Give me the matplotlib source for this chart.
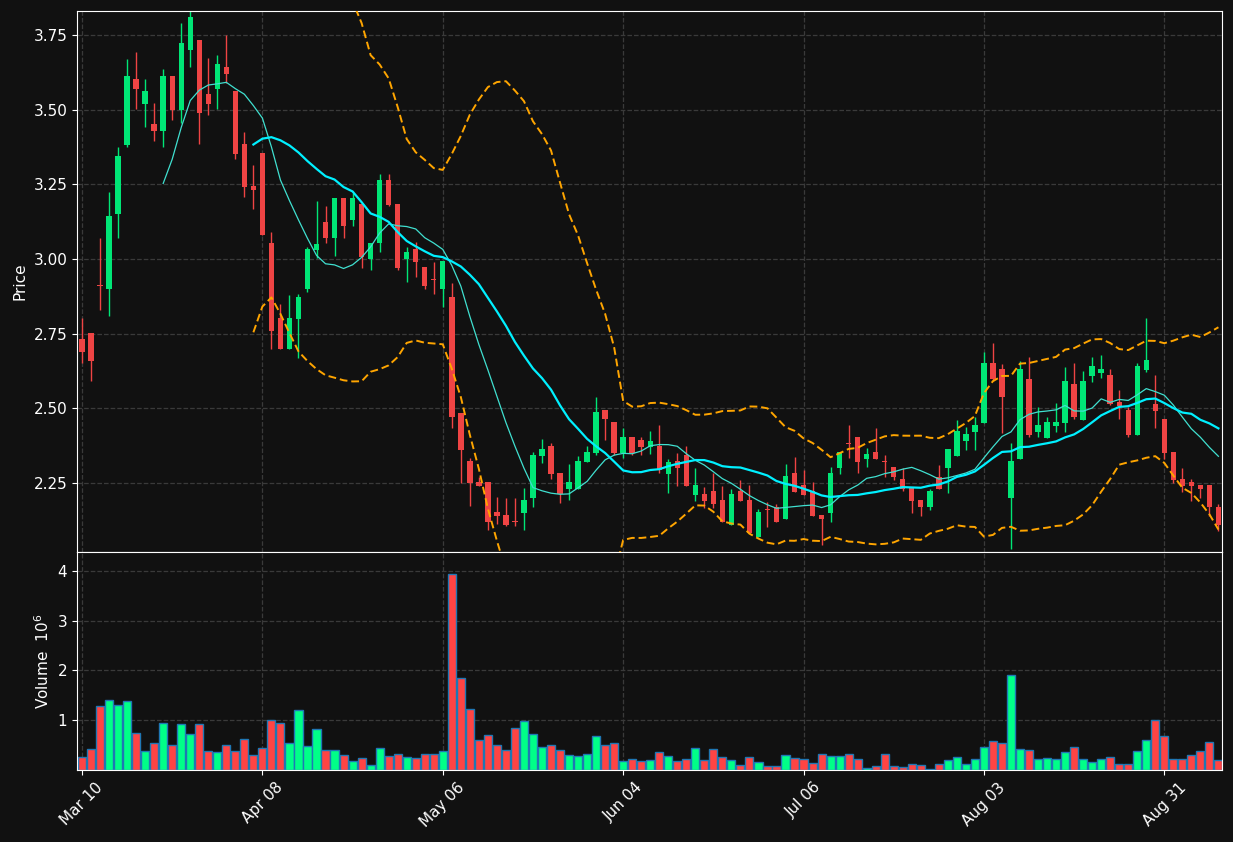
import numpy as np
import matplotlib
matplotlib.use("Agg")
import matplotlib.pyplot as plt

opens = [2.732,2.752,2.913,2.90,3.15,3.382,3.602,3.519,3.452,3.428,3.612,3.499,3.70,3.733,3.552,3.569,3.643,3.562,3.385,3.244,
         3.355,3.053,2.802,2.70,2.80,2.90,3.03,3.124,3.07,3.204,3.13,3.184,3.0,3.053,3.264,3.184,3.0,3.033,2.973,2.933,
         2.90,2.873,2.484,2.324,2.253,2.253,2.153,2.143,2.123,2.15,2.2,2.34,2.374,2.283,2.23,2.23,2.32,2.35,2.494,2.454,
         2.35,2.404,2.394,2.37,2.374,2.28,2.324,2.344,2.21,2.213,2.223,2.193,2.11,2.223,2.193,2.07,2.163,2.17,2.13,2.283,
         2.243,2.223,2.143,2.15,2.30,2.384,2.404,2.33,2.354,2.324,2.304,2.263,2.233,2.193,2.17,2.27,2.30,2.34,2.39,2.42,
         2.45,2.652,2.632,2.20,2.33,2.598,2.42,2.40,2.44,2.45,2.58,2.46,2.608,2.618,2.612,2.52,2.494,2.41,2.628,2.514,
         2.464,2.354,2.263,2.253,2.243,2.243,2.17]
closes = [2.689,2.658,2.91,3.144,3.345,3.612,3.569,3.562,3.428,3.612,3.499,3.723,3.81,3.489,3.519,3.652,3.619,3.351,3.241,3.231,
          3.08,2.759,2.70,2.802,2.873,3.033,3.05,3.07,3.204,3.11,3.204,3.007,3.053,3.264,3.18,2.97,3.023,2.99,2.91,2.93,
          2.993,2.471,2.36,2.25,2.24,2.12,2.14,2.11,2.12,2.193,2.344,2.363,2.28,2.213,2.253,2.324,2.354,2.488,2.464,2.35,
          2.404,2.35,2.37,2.39,2.294,2.32,2.30,2.24,2.243,2.19,2.18,2.12,2.213,2.19,2.083,2.153,2.16,2.12,2.273,2.22,
          2.21,2.14,2.13,2.283,2.354,2.38,2.32,2.347,2.33,2.32,2.27,2.23,2.19,2.17,2.223,2.23,2.364,2.424,2.414,2.444,
          2.652,2.598,2.538,2.324,2.632,2.41,2.444,2.454,2.454,2.59,2.47,2.59,2.642,2.632,2.514,2.508,2.41,2.642,2.662,2.49,
          2.35,2.26,2.24,2.24,2.23,2.17,2.11]
highs = [2.802,2.752,3.07,3.224,3.375,3.67,3.693,3.602,3.522,3.635,3.612,3.79,3.83,3.733,3.672,3.683,3.75,3.562,3.425,3.315,
         3.355,3.09,2.85,2.88,2.883,3.04,3.194,3.177,3.204,3.204,3.22,3.184,3.053,3.284,3.284,3.184,3.04,3.057,2.973,2.99,
         2.993,2.92,2.484,2.334,2.27,2.253,2.203,2.2,2.2,2.233,2.353,2.397,2.384,2.283,2.314,2.34,2.374,2.538,2.494,2.454,
         2.434,2.404,2.404,2.424,2.444,2.33,2.35,2.374,2.30,2.237,2.283,2.24,2.23,2.26,2.243,2.163,2.187,2.18,2.314,2.337,
         2.293,2.253,2.143,2.304,2.354,2.444,2.404,2.367,2.434,2.344,2.304,2.30,2.233,2.193,2.23,2.31,2.364,2.46,2.437,2.47,
         2.69,2.718,2.648,2.384,2.66,2.672,2.504,2.47,2.518,2.638,2.652,2.625,2.672,2.678,2.632,2.56,2.504,2.652,2.802,2.61,
         2.464,2.354,2.30,2.263,2.243,2.243,2.18]
lows = [2.652,2.59,2.83,2.81,3.07,3.375,3.502,3.442,3.395,3.375,3.465,3.455,3.643,3.385,3.482,3.502,3.589,3.335,3.207,3.167,
        3.08,2.70,2.70,2.70,2.67,2.89,3.003,3.053,3.01,3.07,3.11,2.97,2.963,3.023,3.177,2.963,2.923,2.94,2.90,2.883,
        2.84,2.434,2.25,2.173,2.24,2.093,2.113,2.105,2.105,2.093,2.17,2.317,2.263,2.183,2.193,2.23,2.32,2.344,2.394,2.344,
        2.334,2.344,2.344,2.347,2.283,2.217,2.24,2.24,2.19,2.167,2.167,2.12,2.11,2.19,2.083,2.07,2.103,2.12,2.13,2.22,
        2.21,2.14,2.043,2.12,2.28,2.334,2.283,2.304,2.33,2.27,2.26,2.223,2.15,2.14,2.16,2.23,2.217,2.34,2.36,2.36,
        2.45,2.59,2.417,2.03,2.33,2.404,2.404,2.40,2.42,2.42,2.464,2.46,2.588,2.60,2.51,2.464,2.404,2.41,2.62,2.434,
        2.33,2.25,2.22,2.19,2.2,2.14,2.09]
volumes = [0.27,0.43,1.29,1.41,1.31,1.39,0.75,0.39,0.55,0.95,0.51,0.93,0.73,0.93,0.39,0.37,0.51,0.39,0.63,0.31,
           0.45,1.01,0.95,0.55,1.21,0.49,0.83,0.41,0.41,0.31,0.19,0.25,0.11,0.45,0.29,0.33,0.27,0.25,0.33,0.33,
           0.39,3.93,1.85,1.23,0.6,0.7,0.5,0.4,0.84,0.98,0.72,0.46,0.5,0.4,0.3,0.28,0.32,0.68,0.5,0.54,
           0.18,0.22,0.18,0.2,0.36,0.28,0.18,0.22,0.44,0.2,0.42,0.26,0.2,0.1,0.26,0.16,0.08,0.08,0.3,0.24,
           0.22,0.14,0.32,0.28,0.28,0.32,0.22,0.05,0.09,0.33,0.09,0.07,0.13,0.11,0.03,0.13,0.21,0.27,0.13,0.23,
           0.47,0.59,0.55,1.91,0.43,0.41,0.23,0.25,0.23,0.37,0.47,0.23,0.17,0.23,0.27,0.13,0.13,0.39,0.61,1.01,
           0.69,0.23,0.23,0.31,0.39,0.57,0.21]
tick_labels = ["Mar 10", "Apr 08", "May 06", "Jun 04", "Jul 06", "Aug 03", "Aug 31"]
tick_pos = [0, 20, 40, 60, 80, 100, 120]

o = np.array(opens); c = np.array(closes); h = np.array(highs); l = np.array(lows); v = np.array(volumes)
n = len(c); x = np.arange(n)
up = c >= o

BG = "#111111"
UP = "#00e676"; DOWN = "#ef4444"
fig = plt.figure(figsize=(12.33, 8.42), dpi=100, facecolor=BG)
ax = fig.add_axes([0.0625, 0.3444, 0.9286, 0.6425], facecolor=BG)
axv = fig.add_axes([0.0625, 0.0855, 0.9286, 0.2589], facecolor=BG, sharex=ax)

cols = np.where(up, UP, DOWN)
ax.vlines(x, l, h, colors=cols, linewidth=1, zorder=2)
ax.bar(x, np.maximum(np.abs(c - o), 0.004), bottom=np.minimum(o, c), width=0.6, color=cols, zorder=3)

s = np.array(c)
def sma(a, w):
    out = np.full(len(a), np.nan)
    for i in range(w - 1, len(a)):
        out[i] = a[i - w + 1:i + 1].mean()
    return out
def sstd(a, w):
    out = np.full(len(a), np.nan)
    for i in range(w - 1, len(a)):
        out[i] = a[i - w + 1:i + 1].std()
    return out
ma10 = sma(s, 10); ma20 = sma(s, 20); sd = sstd(s, 20)
ax.plot(x, ma10, color="#40e0d0", lw=0.9, zorder=4)
ax.plot(x, ma20, color="#00f0ff", lw=1.6, zorder=4)
ax.plot(x, ma20 + 2 * sd, color="orange", lw=1.4, ls=(0, (4, 2)), zorder=4)
ax.plot(x, ma20 - 2 * sd, color="orange", lw=1.4, ls=(0, (4, 2)), zorder=4)

vcols = np.where(up, "#00ff88", "#ff4444")
axv.bar(x, v, width=0.9, color=vcols, edgecolor="#1f77b4", linewidth=1)

ax.set_xlim(-0.55, 126.4)
ax.set_ylim(2.019, 3.83)
ax.set_yticks([2.25, 2.5, 2.75, 3.0, 3.25, 3.5, 3.75])
ax.set_yticklabels([f"{t:.2f}" for t in [2.25, 2.5, 2.75, 3.0, 3.25, 3.5, 3.75]])
axv.set_ylim(0, 4.38)
axv.set_yticks([1, 2, 3, 4])
axv.set_xticks(tick_pos)
axv.set_xticklabels(tick_labels, rotation=45, ha="center")
plt.setp(ax.get_xticklabels(), visible=False)
ax.set_ylabel("Price", color="white", fontsize=11)
axv.set_ylabel("Volume  $10^6$", color="white", fontsize=11)
for a in (ax, axv):
    a.grid(True, color="#3a3a3a", ls="--", lw=0.9)
    a.set_axisbelow(True)
    a.tick_params(colors="white", labelsize=11)
    for sp in a.spines.values():
        sp.set_color("white")
fig.savefig("out.png", dpi=100, facecolor=BG)
